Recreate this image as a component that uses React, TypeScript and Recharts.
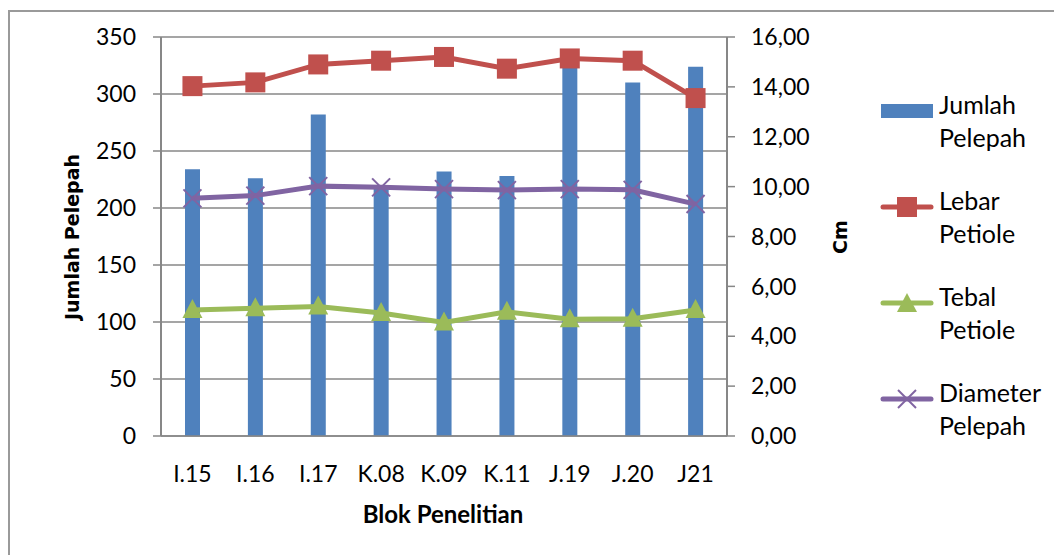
import React from 'react';
import {
  Bar,
  CartesianGrid,
  ComposedChart,
  Line,
  XAxis,
  YAxis,
} from 'recharts';

const blok = ['I.15', 'I.16', 'I.17', 'K.08', 'K.09', 'K.11', 'J.19', 'J.20', 'J21'];
const jumlahPelepah = [234, 226, 282, 219, 232, 228, 324, 310, 324];
const lebarPetiole = [14.03, 14.18, 14.9, 15.05, 15.2, 14.73, 15.14, 15.05, 13.55];
const tebalPetiole = [5.05, 5.12, 5.19, 4.93, 4.55, 4.98, 4.68, 4.7, 5.05];
const diameterPelepah = [9.53, 9.64, 10.02, 9.97, 9.9, 9.86, 9.9, 9.87, 9.3];
const leftTicks = [0, 50, 100, 150, 200, 250, 300, 350];
const rightTicks = [0, 2, 4, 6, 8, 10, 12, 14, 16];

const data = blok.map((b, i) => ({
  blok: b,
  jumlah: jumlahPelepah[i],
  lebar: lebarPetiole[i],
  tebal: tebalPetiole[i],
  diameter: diameterPelepah[i],
}));

const BLUE = '#4F81BD';
const RED = '#C0504D';
const GREEN = '#9BBB59';
const PURPLE = '#8064A2';
const GRID = '#878787';
const FONT = 'Lato, "Open Sans", sans-serif';
const TITLE_FONT = '"DejaVu Sans", Verdana, sans-serif';

const tickStyle = { fill: '#000', fontSize: 23, fontFamily: FONT };

function SquareDot(props: any) {
  const { cx, cy } = props;
  if (cx == null || cy == null) return null;
  return <rect x={cx - 10} y={cy - 10} width={20} height={20} fill={RED} />;
}

function TriangleDot(props: any) {
  const { cx, cy } = props;
  if (cx == null || cy == null) return null;
  return (
    <polygon
      points={`${cx},${cy - 11} ${cx + 10},${cy + 8} ${cx - 10},${cy + 8}`}
      fill={GREEN}
    />
  );
}

function CrossDot(props: any) {
  const { cx, cy } = props;
  if (cx == null || cy == null) return null;
  const s = 9;
  return (
    <g stroke={PURPLE} strokeWidth={2}>
      <line x1={cx - s} y1={cy - s} x2={cx + s} y2={cy + s} />
      <line x1={cx - s} y1={cy + s} x2={cx + s} y2={cy - s} />
    </g>
  );
}

const legendItems = [
  { key: 'bar', color: BLUE, lines: ['Jumlah', 'Pelepah'] },
  { key: 'sq', color: RED, lines: ['Lebar', 'Petiole'] },
  { key: 'tri', color: GREEN, lines: ['Tebal', 'Petiole'] },
  { key: 'x', color: PURPLE, lines: ['Diameter', 'Pelepah'] },
];

function LegendIcon({ kind, color }: { kind: string; color: string }) {
  if (kind === 'bar') {
    return (
      <svg width={54} height={20}>
        <rect x={1} y={3} width={52} height={14} fill={color} />
      </svg>
    );
  }
  return (
    <svg width={54} height={20}>
      <line x1={3} y1={10} x2={51} y2={10} stroke={color} strokeWidth={5} strokeLinecap="round" />
      {kind === 'sq' && <SquareDot cx={27} cy={10} />}
      {kind === 'tri' && <TriangleDot cx={27} cy={11} />}
      {kind === 'x' && <CrossDot cx={27} cy={10} />}
    </svg>
  );
}

function ChartLegend() {
  return (
    <div
      style={{
        position: 'absolute',
        left: 880,
        top: 89,
        width: 174,
        fontFamily: FONT,
        fontSize: 25,
        color: '#000',
        whiteSpace: 'nowrap',
      }}
    >
      {legendItems.map((it) => (
        <div key={it.key} style={{ display: 'flex', height: 96 }}>
          <div style={{ width: 59, paddingTop: 7 }}>
            <LegendIcon kind={it.key} color={it.color} />
          </div>
          <div style={{ lineHeight: '33px', marginTop: -1 }}>
            {it.lines.map((l) => (
              <div key={l}>{l}</div>
            ))}
          </div>
        </div>
      ))}
    </div>
  );
}

export default function App() {
  return (
    <div style={{ position: 'absolute', left: 0, top: 0, width: 1054, height: 555, background: '#fff' }}>
      <div
        style={{
          position: 'absolute',
          left: 8,
          top: 10,
          width: 1100,
          height: 600,
          borderLeft: '2px solid #9a9a9a',
          borderTop: '2px solid #9a9a9a',
        }}
      />
      <ComposedChart
        width={1054}
        height={555}
        data={data}
        margin={{ top: 37, right: 237, left: 100, bottom: 59 }}
        style={{ position: 'absolute', left: 0, top: 0 }}
      >
        <CartesianGrid vertical={false} stroke={GRID} strokeWidth={1.5} yAxisId="left" />
        <XAxis
          dataKey="blok"
          tickLine={false}
          axisLine={{ stroke: GRID, strokeWidth: 1.5 }}
          tick={tickStyle}
          tickMargin={24}
          height={60}
          label={{
            content: () => (
              <text
                x={443}
                y={513}
                textAnchor="middle"
                dominantBaseline="central"
                fontFamily={FONT}
                fontWeight="bold"
                fontSize={24}
                fill="#000"
              >
                Blok Penelitian
              </text>
            ),
          }}
        />
        <YAxis
          yAxisId="left"
          domain={[0, 350]}
          ticks={leftTicks}
          width={61}
          tick={tickStyle}
          tickSize={8}
          tickMargin={17}
          tickLine={{ stroke: GRID, strokeWidth: 1.5 }}
          axisLine={{ stroke: GRID, strokeWidth: 2 }}
          interval={0}
          label={{
            content: () => (
              <text
                x={72}
                y={237}
                transform="rotate(-90 72 237)"
                textAnchor="middle"
                dominantBaseline="central"
                fontFamily={TITLE_FONT}
                fontWeight="bold"
                fontSize={19}
                fill="#000"
              >
                Jumlah Pelepah
              </text>
            ),
          }}
        />
        <YAxis
          yAxisId="right"
          orientation="right"
          domain={[0, 16]}
          ticks={rightTicks}
          width={90}
          tick={tickStyle}
          tickSize={8}
          tickMargin={16}
          tickLine={{ stroke: GRID, strokeWidth: 1.5 }}
          axisLine={{ stroke: GRID, strokeWidth: 2 }}
          interval={0}
          tickFormatter={(v: number) => v.toFixed(2).replace('.', ',')}
          label={{
            content: () => (
              <text
                x={840}
                y={237}
                transform="rotate(-90 840 237)"
                textAnchor="middle"
                dominantBaseline="central"
                fontFamily={TITLE_FONT}
                fontWeight="bold"
                fontSize={19}
                fill="#000"
              >
                Cm
              </text>
            ),
          }}
        />
        <Bar
          yAxisId="left"
          dataKey="jumlah"
          name="Jumlah Pelepah"
          fill={BLUE}
          barSize={15}
          isAnimationActive={false}
        />
        <Line
          yAxisId="right"
          dataKey="lebar"
          name="Lebar Petiole"
          stroke={RED}
          strokeWidth={5}
          dot={<SquareDot />}
          activeDot={false}
          isAnimationActive={false}
        />
        <Line
          yAxisId="right"
          dataKey="tebal"
          name="Tebal Petiole"
          stroke={GREEN}
          strokeWidth={5}
          dot={<TriangleDot />}
          activeDot={false}
          isAnimationActive={false}
        />
        <Line
          yAxisId="right"
          dataKey="diameter"
          name="Diameter Pelepah"
          stroke={PURPLE}
          strokeWidth={5}
          dot={<CrossDot />}
          activeDot={false}
          isAnimationActive={false}
        />
      </ComposedChart>
      <ChartLegend />
    </div>
  );
}
